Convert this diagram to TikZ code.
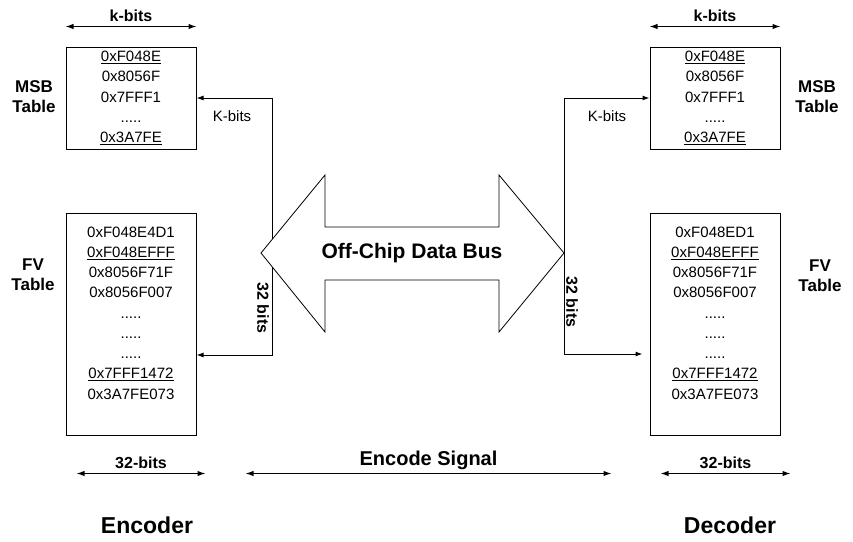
\documentclass[tikz,border=0pt]{standalone}
\usepackage{fontspec}
\setmainfont{Liberation Sans}
\usepackage{tikz}
\usetikzlibrary{arrows.meta,positioning}

\begin{document}
\begin{tikzpicture}[
  x=1pt,
  y=-1pt,
  tbl/.style={draw, line width=1pt, inner sep=0pt, minimum width=130pt, align=center},
  rows/.style={align=center, font=\fontsize{15}{20.25}\selectfont},
  heading/.style={align=center, font=\fontsize{17}{20}\selectfont\bfseries},
  dim/.style={{Latex[length=8pt,width=5.5pt]}-{Latex[length=8pt,width=5.5pt]}, line width=1.2pt},
  wire/.style={{Latex[length=7pt,width=5pt]}-{Latex[length=7pt,width=5pt]}, line width=1pt},
  dimtext/.style={font=\fontsize{16}{16}\selectfont\bfseries},
  side/.style={font=\fontsize{15}{15}\selectfont},
  bus/.style={draw, fill=white, line width=0.8pt, line join=miter},
  title/.style={font=\fontsize{23}{23}\selectfont\bfseries}
]
  \useasboundingbox (0,0) rectangle (853,541);

  % encoder tables
  \node[tbl, rows, minimum height=102pt] (msbL) at (131,98)
    {\underline{0xF048E}\\0x8056F\\0x7FFF1\\.....\\\underline{0x3A7FE}};
  \node[tbl, minimum height=222pt] (fvL) at (131,324) {};
  \node[rows] (fvLrows) at (131,313)
    {0xF048E4D1\\\underline{0xF048EFFF}\\0x8056F71F\\0x8056F007\\.....\\.....\\.....\\\underline{0x7FFF1472}\\0x3A7FE073};
  \node[heading] (msbLlbl) at (34,97) {MSB\\Table};
  \node[heading] (fvLlbl) at (33,275) {FV\\Table};

  % decoder tables
  \node[tbl, rows, minimum height=102pt] (msbR) at (715,98)
    {\underline{0xF048E}\\0x8056F\\0x7FFF1\\.....\\\underline{0x3A7FE}};
  \node[tbl, minimum height=222pt] (fvR) at (715,324) {};
  \node[rows] (fvRrows) at (715,313)
    {0xF048ED1\\\underline{0xF048EFFF}\\0x8056F71F\\0x8056F007\\.....\\.....\\.....\\\underline{0x7FFF1472}\\0x3A7FE073};
  \node[heading] (msbRlbl) at (817,97) {MSB\\Table};
  \node[heading] (fvRlbl) at (820,276) {FV\\Table};

  % widths
  \draw[dim] ([yshift=20pt]msbL.north west) -- ([yshift=20pt]msbL.north east)
    node[midway, above=1pt, dimtext] (kbitsL) {k-bits};
  \draw[dim] ([yshift=20pt]msbR.north west) -- ([yshift=20pt]msbR.north east)
    node[midway, above=1pt, dimtext] (kbitsR) {k-bits};
  \draw[dim] ([xshift=11pt,yshift=-38pt]fvL.south west) -- ([xshift=9pt,yshift=-38pt]fvL.south east)
    node[midway, above=1pt, dimtext] (wbitsLbot) {32-bits};
  \draw[dim] ([xshift=11pt,yshift=-38pt]fvR.south west) -- ([xshift=10pt,yshift=-38pt]fvR.south east)
    node[midway, above=1pt, dimtext] (wbitsRbot) {32-bits};
  \draw[dim] ([xshift=49pt,yshift=-38pt]fvL.south east) -- ([xshift=-38pt,yshift=-38pt]fvR.south west)
    node[midway, above, font=\fontsize{20}{20}\selectfont\bfseries] (enc) {Encode Signal};

  % bus taps
  \coordinate (kL) at (272,98);
  \coordinate (wL) at (272,355);
  \draw[wire] (msbL.east) -- (kL) -- (wL) -- (fvL.east |- wL);
  \coordinate (kR) at (564,98);
  \coordinate (wR) at (564,354);
  \draw[wire, shorten >=7pt] (msbR.west) -- (kR) -- (wR) -- (fvR.west |- wR);
  \node[side] (kbitsLside) at (232,116) {K-bits};
  \node[side] (kbitsRside) at (607,116) {K-bits};
  \node[dimtext, rotate=-90] (wbitsL) at (263,308) {32 bits};
  \node[dimtext, rotate=-90] (wbitsR) at (572,302) {32 bits};

  % data bus
  \draw[bus] (261,253) -- (325,175) -- (325,227) -- (499,227) -- (499,175)
    -- (564,253) -- (499,332) -- (499,280) -- (325,280) -- (325,332) -- cycle;
  \node[font=\fontsize{21}{21}\selectfont\bfseries] (busname) at (412,253) {Off-Chip Data Bus};

  \node[title] (encoder) at (147,525) {Encoder};
  \node[title] (decoder) at (730,525) {Decoder};
\end{tikzpicture}
\end{document}
